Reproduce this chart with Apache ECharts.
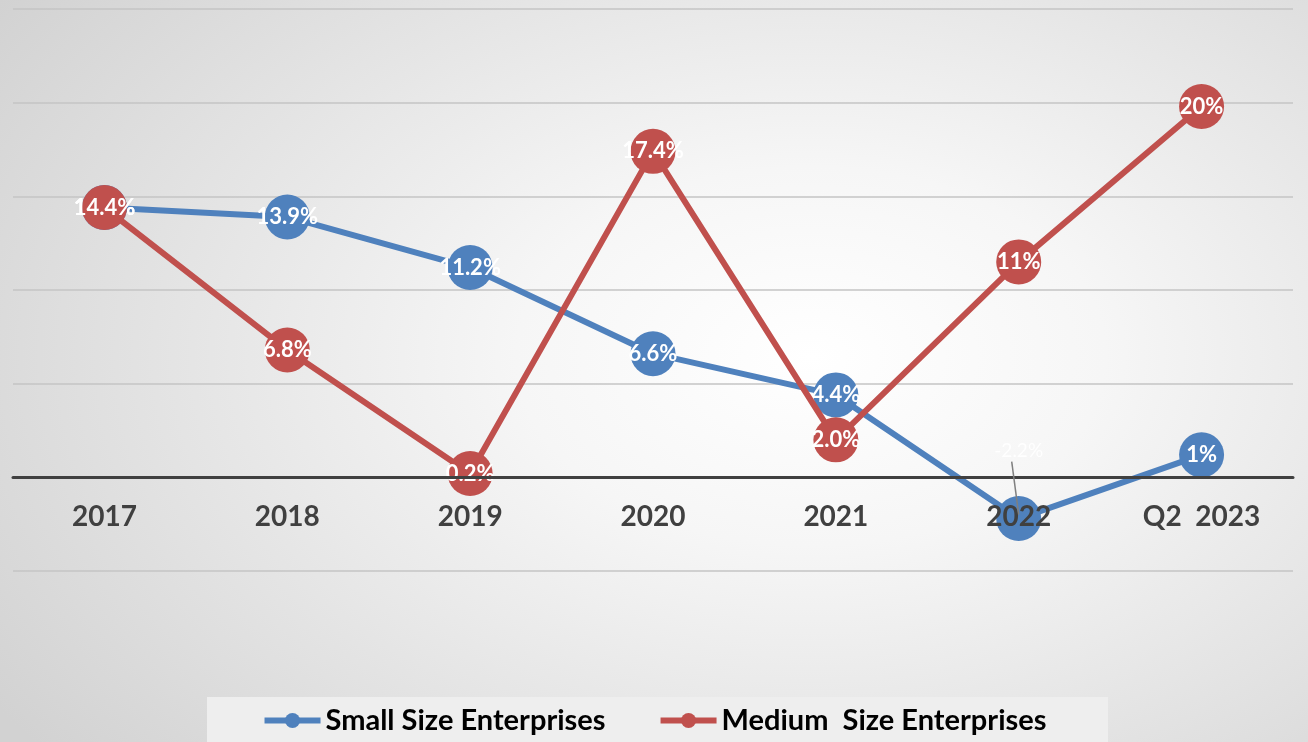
<!DOCTYPE html>
<html><head><meta charset="utf-8">
<script src="https://cdn.jsdelivr.net/npm/echarts@6/dist/echarts.min.js"></script>
<style>
html,body{margin:0;padding:0;}
#c{width:1308px;height:742px;background:radial-gradient(ellipse 75% 85% at 62% 48%, #ffffff 0%, #f6f6f6 30%, #e4e4e4 65%, #d2d2d2 100%);}
</style></head>
<body><div id="c"></div>
<script>
const categories = ['2017','2018','2019','2020','2021','2022','Q2  2023'];
const smallValues = [14.4, 13.9, 11.2, 6.6, 4.4, -2.2, 1.2];
const smallLabels = ['14.4%','13.9%','11.2%','6.6%','4.4%','-2.2%','1%'];
const mediumValues = [14.4, 6.8, 0.2, 17.4, 2.0, 11.5, 19.8];
const mediumLabels = ['14.4%','6.8%','0.2%','17.4%','2.0%','11%','20%'];
const seriesNames = ['Small Size Enterprises','Medium  Size Enterprises'];

const chart = echarts.init(document.getElementById('c'), null, {renderer:'canvas'});
const labelStyle = {show:true, position:'inside', color:'#ffffff', fontFamily:'Lato', fontWeight:'bold', fontSize:22};

function mkData(vals, labels, special){
  return vals.map((v,i)=>{
    const d = {value:v};
    if (special && i===5) {
      d.label = {show:true, position:'top', distance:36, color:'rgba(255,255,255,0.9)', fontWeight:'normal', fontSize:19, formatter: labels[i]};
    }
    return d;
  });
}

const gridTop = 9, gridBottom = 171, plotH = 742 - gridTop - gridBottom;
const yMin = -5, yMax = 25;
const zeroOffset = -plotH * (0 - yMin) / (yMax - yMin);

chart.setOption({
  backgroundColor:'transparent',
  animation:false,
  grid:{left:13, right:15, top:gridTop, bottom:gridBottom},
  xAxis:{type:'category', data:categories, boundaryGap:true, z:5, position:'bottom', offset:zeroOffset,
    axisLine:{onZero:false, lineStyle:{color:'#404040', width:3}},
    axisTick:{show:false},
    axisLabel:{margin:26, color:'#404040', fontFamily:'Lato', fontWeight:'bold', fontSize:28}},
  yAxis:{type:'value', min:yMin, max:yMax, interval:5,
    axisLabel:{show:false}, axisLine:{show:false}, axisTick:{show:false},
    splitLine:{lineStyle:{color:'#c4c4c4', width:1.5}}},
  legend:{bottom:2, left:'center', itemGap:52, itemWidth:56, itemHeight:19,
    lineStyle:{width:6},
    textStyle:{fontFamily:'Lato', fontWeight:'bold', fontSize:29, color:'#000000'},
    data:seriesNames},
  series:[
    {name:seriesNames[0], type:'line', data:mkData(smallValues, smallLabels, true),
     symbol:'circle', symbolSize:45, z:2,
     lineStyle:{color:'#4f81bd', width:6}, itemStyle:{color:'#4f81bd'},
     label:Object.assign({}, labelStyle, {formatter:p=>smallLabels[p.dataIndex]})},
    {name:seriesNames[1], type:'line', data:mkData(mediumValues, mediumLabels, false),
     symbol:'circle', symbolSize:45, z:3,
     lineStyle:{color:'#c0504d', width:6}, itemStyle:{color:'#c0504d'},
     label:Object.assign({}, labelStyle, {formatter:p=>mediumLabels[p.dataIndex]})}
  ]
});

const p = chart.convertToPixel({seriesIndex:0}, [5, smallValues[5]]);
chart.setOption({graphic:[{type:'rect', left:207, top:697, shape:{width:901, height:45}, style:{fill:'#eeeeee'}, z:-1, silent:true},
  {type:'line', shape:{x1:p[0]-7, y1:p[1]-57, x2:p[0], y2:p[1]-4}, style:{stroke:'#7f7f7f', lineWidth:1.5}, z:10, silent:true}]});
</script></body></html>
